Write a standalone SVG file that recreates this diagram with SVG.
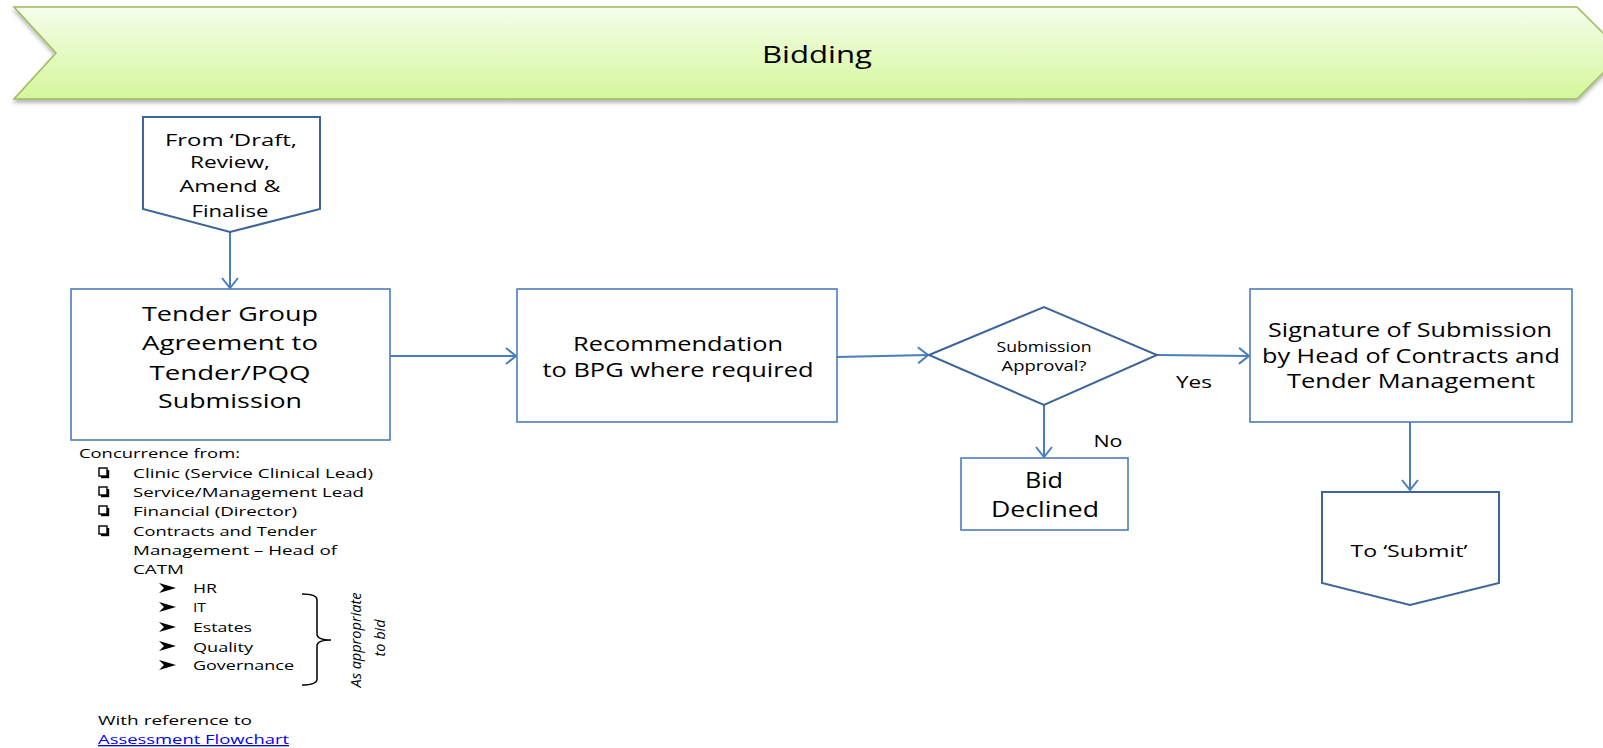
<svg xmlns="http://www.w3.org/2000/svg" width="1603" height="748" viewBox="0 0 1603 748">
<style>
text{font-family:"Open Sans","Noto Sans","DejaVu Sans",sans-serif;fill:#000}
.box{fill:#fff;stroke:#4a7ebb;stroke-width:1.6}
.dk{fill:#fff;stroke:#3d6599;stroke-width:2}
.ln{fill:none;stroke:#4a7ebb;stroke-width:2}
.b{font-size:20px}
.s{font-size:15.5px}
.l{font-size:13px}
.c{text-anchor:middle}
</style>
<defs>
<linearGradient id="g" x1="0" y1="0" x2="0" y2="1">
<stop offset="0" stop-color="#f5fdeb"/>
<stop offset="1" stop-color="#d4f79b"/>
</linearGradient>
<filter id="sh" x="-5%" y="-20%" width="110%" height="150%">
<feDropShadow dx="0" dy="3" stdDeviation="2" flood-color="#000" flood-opacity="0.3"/>
</filter>
<marker id="a" viewBox="0 0 12 18" refX="11" refY="9" markerWidth="12" markerHeight="18" markerUnits="userSpaceOnUse" orient="auto">
<path d="M1,1 L11,9 L1,17" fill="none" stroke="#4a7ebb" stroke-width="2"/>
</marker>
</defs>
<g id="banner">
<polygon points="14,7 1577,7 1623,53 1577,99 14,99 56,53" fill="url(#g)" stroke="#9bbb59" stroke-width="1.5" filter="url(#sh)"/>
<text x="817" y="63" style="font-size:24px" class="c" textLength="110" lengthAdjust="spacingAndGlyphs">Bidding</text>
</g>
<g id="connectors">
<line class="ln" x1="230" y1="232" x2="230" y2="288" marker-end="url(#a)"/>
<line class="ln" x1="390" y1="356" x2="516" y2="356" marker-end="url(#a)"/>
<line class="ln" x1="837" y1="357" x2="928" y2="355" marker-end="url(#a)"/>
<line class="ln" x1="1157" y1="355" x2="1249" y2="356" marker-end="url(#a)"/>
<line class="ln" x1="1044" y1="405" x2="1044" y2="457" marker-end="url(#a)"/>
<line class="ln" x1="1410" y1="422" x2="1410" y2="490" marker-end="url(#a)"/>
<text x="1194" y="388" class="s c" textLength="36" lengthAdjust="spacingAndGlyphs">Yes</text>
<text x="1108" y="447" class="s c" style="font-size:16px" textLength="29" lengthAdjust="spacingAndGlyphs">No</text>
</g>
<g id="from-draft">
<polygon class="dk" points="143,117 320,117 320,209 230,232 143,209"/>
<text x="231" y="146" class="s c" textLength="132" lengthAdjust="spacingAndGlyphs">From ‘Draft,</text>
<text x="230" y="168" class="s c" textLength="80" lengthAdjust="spacingAndGlyphs">Review,</text>
<text x="230" y="192" class="s c" textLength="101" lengthAdjust="spacingAndGlyphs">Amend &amp;</text>
<text x="230" y="217" class="s c" textLength="77" lengthAdjust="spacingAndGlyphs">Finalise</text>
</g>
<g id="tender-group">
<rect class="box" x="71" y="289" width="319" height="151"/>
<text x="230" y="321" class="b c" textLength="176" lengthAdjust="spacingAndGlyphs">Tender Group</text>
<text x="230" y="350" class="b c" textLength="176" lengthAdjust="spacingAndGlyphs">Agreement to</text>
<text x="230" y="380" class="b c" textLength="161" lengthAdjust="spacingAndGlyphs">Tender/PQQ</text>
<text x="230" y="408" class="b c" textLength="144" lengthAdjust="spacingAndGlyphs">Submission</text>
</g>
<g id="recommendation">
<rect class="box" x="517" y="289" width="320" height="133"/>
<text x="678" y="351" class="b c" textLength="210" lengthAdjust="spacingAndGlyphs">Recommendation</text>
<text x="678" y="377" class="b c" textLength="271" lengthAdjust="spacingAndGlyphs">to BPG where required</text>
</g>
<g id="approval">
<polygon class="dk" points="929,355 1044,307 1157,355 1044,405"/>
<text x="1044" y="352" class="c" style="font-size:14.5px" textLength="95" lengthAdjust="spacingAndGlyphs">Submission</text>
<text x="1044" y="371" class="c" style="font-size:14.5px" textLength="85" lengthAdjust="spacingAndGlyphs">Approval?</text>
</g>
<g id="signature">
<rect class="box" x="1250" y="289" width="322" height="133"/>
<text x="1410" y="337" class="b c" textLength="284" lengthAdjust="spacingAndGlyphs">Signature of Submission</text>
<text x="1411" y="363" class="b c" textLength="298" lengthAdjust="spacingAndGlyphs">by Head of Contracts and</text>
<text x="1411" y="388" class="b c" textLength="248" lengthAdjust="spacingAndGlyphs">Tender Management</text>
</g>
<g id="bid-declined">
<rect class="box" x="961" y="458" width="167" height="72"/>
<text x="1044" y="488" class="c" style="font-size:21px" textLength="38" lengthAdjust="spacingAndGlyphs">Bid</text>
<text x="1045" y="517" class="c" style="font-size:21px" textLength="108" lengthAdjust="spacingAndGlyphs">Declined</text>
</g>
<g id="to-submit">
<polygon class="dk" points="1322,492 1499,492 1499,583 1410,605 1322,583"/>
<text x="1409" y="557" class="c" style="font-size:16px" textLength="117" lengthAdjust="spacingAndGlyphs">To ‘Submit’</text>
</g>
<g id="concurrence">
<text x="79" y="458" class="l" textLength="161" lengthAdjust="spacingAndGlyphs">Concurrence from:</text>
<g fill="none" stroke="#000" stroke-width="1.4">
<rect x="99" y="468" width="8" height="8"/>
<rect x="99" y="487" width="8" height="8"/>
<rect x="99" y="506" width="8" height="8"/>
<rect x="99" y="526" width="8" height="8"/>
</g>
<g fill="#000">
<rect x="101" y="476" width="8" height="2.2"/>
<rect x="107" y="470" width="2.2" height="8"/>
<rect x="101" y="495" width="8" height="2.2"/>
<rect x="107" y="489" width="2.2" height="8"/>
<rect x="101" y="514" width="8" height="2.2"/>
<rect x="107" y="508" width="2.2" height="8"/>
<rect x="101" y="534" width="8" height="2.2"/>
<rect x="107" y="528" width="2.2" height="8"/>
</g>
<text x="133" y="478" class="l" textLength="240" lengthAdjust="spacingAndGlyphs">Clinic (Service  Clinical Lead)</text>
<text x="133" y="497" class="l" textLength="231" lengthAdjust="spacingAndGlyphs">Service/Management  Lead</text>
<text x="133" y="516" class="l" textLength="164" lengthAdjust="spacingAndGlyphs">Financial (Director)</text>
<text x="133" y="536" class="l" textLength="184" lengthAdjust="spacingAndGlyphs">Contracts and Tender</text>
<text x="133" y="555" class="l" textLength="204" lengthAdjust="spacingAndGlyphs">Management – Head of</text>
<text x="133" y="574" class="l" textLength="51" lengthAdjust="spacingAndGlyphs">CATM</text>
<g fill="#000">
<path d="M159,583 L176,588 L159,593 L164,588 Z"/>
<path d="M159,602 L176,607 L159,612 L164,607 Z"/>
<path d="M159,622 L176,627 L159,632 L164,627 Z"/>
<path d="M159,641 L176,646 L159,651 L164,646 Z"/>
<path d="M159,660 L176,665 L159,670 L164,665 Z"/>
</g>
<text x="193" y="593" class="l" textLength="24" lengthAdjust="spacingAndGlyphs">HR</text>
<text x="193" y="612" class="l" textLength="13" lengthAdjust="spacingAndGlyphs">IT</text>
<text x="193" y="632" class="l" textLength="59" lengthAdjust="spacingAndGlyphs">Estates</text>
<text x="193" y="652" class="l" textLength="60" lengthAdjust="spacingAndGlyphs">Quality</text>
<text x="193" y="670" class="l" textLength="101" lengthAdjust="spacingAndGlyphs">Governance</text>
<path d="M302,594 Q317,594 317,600 L317,634 Q317,640 331,640 Q317,640 317,646 L317,679 Q317,685 302,685" fill="none" stroke="#000" stroke-width="1.5"/>
<text transform="translate(361,640) rotate(-90)" class="c" style="font-size:14.5px;font-style:italic" textLength="95" lengthAdjust="spacingAndGlyphs">As appropriate</text>
<text transform="translate(385,638) rotate(-90)" class="c" style="font-size:14.5px;font-style:italic" textLength="37" lengthAdjust="spacingAndGlyphs">to bid</text>
<text x="98" y="725" style="font-size:13.5px" textLength="154" lengthAdjust="spacingAndGlyphs">With reference to</text>
<text x="98" y="744" style="font-size:13.5px;fill:#0000ee;text-decoration:underline" textLength="191" lengthAdjust="spacingAndGlyphs">Assessment Flowchart</text>
</g>
</svg>
